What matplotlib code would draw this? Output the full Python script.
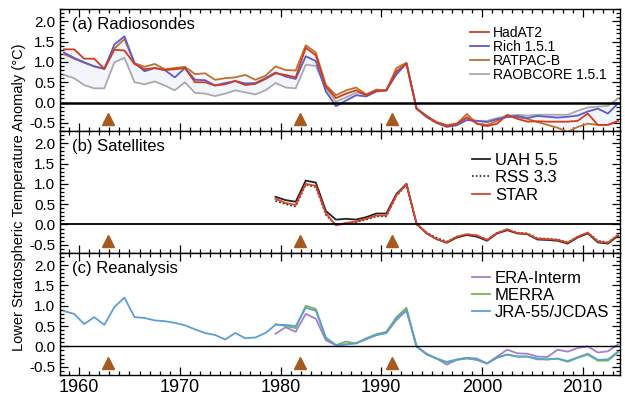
import numpy as np
import matplotlib.pyplot as plt
from matplotlib.ticker import MultipleLocator

plt.rcParams['font.family'] = ['Liberation Sans Narrow', 'Liberation Sans', 'DejaVu Sans']
plt.rcParams['axes.unicode_minus'] = False

# annual means, plotted at mid-year
years = np.arange(1958, 2014)
sat_years = np.arange(1979, 2014)

# (a) radiosondes
hadat2 = [1.31, 1.31, 1.08, 1.08, 0.83, 1.30, 1.28, 0.95, 0.82, 0.85, 0.80, 0.82,
          0.85, 0.50, 0.50, 0.42, 0.45, 0.53, 0.43, 0.46, 0.58, 0.72, 0.68, 0.62,
          1.35, 1.16, 0.39, 0.11, 0.22, 0.30, 0.18, 0.29, 0.30, 0.77, 0.96,
          -0.15, -0.34, -0.50, -0.58, -0.53, -0.36, -0.52, -0.58, -0.52, -0.30,
          -0.40, -0.47, -0.46, -0.47, -0.47, -0.47, -0.45, -0.27, -0.55, -0.55, -0.46]
rich = [1.23, 1.10, 0.99, 0.89, 0.83, 1.43, 1.63, 0.97, 0.77, 0.85, 0.80, 0.62,
        0.85, 0.56, 0.55, 0.42, 0.48, 0.53, 0.47, 0.48, 0.60, 0.74, 0.64, 0.58,
        1.14, 1.02, 0.27, -0.09, 0.05, 0.18, 0.15, 0.27, 0.30, 0.69, 0.96,
        -0.15, -0.36, -0.50, -0.60, -0.56, -0.43, -0.45, -0.48, -0.41, -0.36,
        -0.33, -0.38, -0.33, -0.35, -0.37, -0.35, -0.32, -0.22, -0.15, -0.27, -0.02]
ratpac = [1.19, 1.08, 0.98, 0.89, 0.83, 1.33, 1.56, 0.97, 0.88, 0.95, 0.82, 0.85,
          0.88, 0.70, 0.72, 0.56, 0.60, 0.62, 0.68, 0.56, 0.66, 0.89, 0.80, 0.79,
          1.41, 1.23, 0.43, 0.18, 0.30, 0.37, 0.20, 0.32, 0.30, 0.85, 0.98,
          -0.15, -0.33, -0.48, -0.56, -0.52, -0.28, -0.52, -0.55, -0.45, -0.32,
          -0.36, -0.40, -0.48, -0.55, -0.62, -0.72, -0.60, -0.52, -0.55, -0.55, -0.45]
raobcore = [0.68, 0.60, 0.43, 0.35, 0.35, 0.99, 1.10, 0.50, 0.45, 0.52, 0.42, 0.30,
            0.50, 0.24, 0.22, 0.16, 0.22, 0.30, 0.25, 0.20, 0.30, 0.48, 0.37, 0.35,
            0.93, 0.90, 0.35, 0.02, 0.13, 0.24, 0.20, 0.29, 0.30, 0.73, 0.96,
            -0.13, -0.33, -0.48, -0.55, -0.52, -0.40, -0.45, -0.45, -0.38, -0.33,
            -0.30, -0.32, -0.30, -0.30, -0.30, -0.30, -0.20, -0.12, -0.10, -0.08, 0.10]

# (b) satellites, 1979 onwards
uah = [0.68, 0.60, 0.56, 1.08, 1.03, 0.33, 0.12, 0.14, 0.12, 0.18, 0.27, 0.27,
       0.75, 1.00, 0.02, -0.22, -0.36, -0.45, -0.32, -0.26, -0.30, -0.40, -0.22,
       -0.14, -0.22, -0.24, -0.37, -0.38, -0.40, -0.47, -0.32, -0.22, -0.44, -0.47, -0.28]
rss = [0.58, 0.50, 0.44, 0.98, 0.92, 0.24, -0.02, 0.03, 0.06, 0.12, 0.20, 0.20,
       0.70, 0.98, 0.00, -0.20, -0.33, -0.42, -0.30, -0.24, -0.27, -0.37, -0.20,
       -0.12, -0.20, -0.22, -0.34, -0.35, -0.37, -0.44, -0.30, -0.20, -0.40, -0.44, -0.26]
star = [0.63, 0.53, 0.48, 1.00, 0.95, 0.27, -0.02, 0.04, 0.07, 0.14, 0.22, 0.22,
        0.72, 0.99, 0.02, -0.21, -0.36, -0.44, -0.30, -0.24, -0.27, -0.38, -0.21,
        -0.12, -0.21, -0.23, -0.35, -0.36, -0.38, -0.45, -0.30, -0.20, -0.42, -0.45, -0.26]

# (c) reanalyses
era_interim = [0.31, 0.47, 0.36, 0.80, 0.68, 0.15, 0.03, 0.05, 0.08, 0.18, 0.28, 0.33,
               0.65, 0.88, 0.00, -0.18, -0.30, -0.45, -0.33, -0.28, -0.30, -0.42, -0.25,
               -0.08, -0.17, -0.18, -0.25, -0.26, -0.08, -0.13, -0.04, 0.00, -0.15, -0.12, 0.05]
merra = [0.55, 0.50, 0.45, 1.00, 0.92, 0.22, 0.03, 0.12, 0.07, 0.20, 0.30, 0.36,
         0.72, 0.95, 0.00, -0.20, -0.30, -0.40, -0.33, -0.30, -0.33, -0.42, -0.28,
         -0.20, -0.25, -0.25, -0.32, -0.32, -0.30, -0.38, -0.28, -0.20, -0.35, -0.35, -0.15]
jra55 = [0.87, 0.80, 0.55, 0.72, 0.53, 0.97, 1.20, 0.72, 0.70, 0.64, 0.62, 0.58,
         0.52, 0.42, 0.33, 0.28, 0.17, 0.33, 0.20, 0.22, 0.33, 0.53, 0.53, 0.50,
         0.95, 0.88, 0.20, 0.03, 0.05, 0.08, 0.18, 0.28, 0.33, 0.68, 0.90,
         0.00, -0.19, -0.30, -0.38, -0.32, -0.28, -0.33, -0.42, -0.27, -0.20,
         -0.25, -0.25, -0.30, -0.32, -0.30, -0.36, -0.27, -0.18, -0.33, -0.32, -0.13]

# volcanic eruptions (Agung, El Chichon, Pinatubo)
eruptions = [1962.85, 1981.95, 1991.05]
eruption_level = -0.40

x = years + 0.5
xs = sat_years + 0.5

fig = plt.figure(figsize=(6.25, 3.95), dpi=100)
axs = fig.subplots(3, 1, sharex=True, gridspec_kw=dict(hspace=0))
fig.subplots_adjust(left=0.096, right=0.992, top=0.977, bottom=0.051)

# panel (a)
ax = axs[0]
stack = np.array([hadat2, rich, ratpac, raobcore])
ax.fill_between(x, stack.min(axis=0), stack.max(axis=0), color='#f2f5fb', lw=0, zorder=1)
ax.plot(x, raobcore, color='#aaaaaa', lw=1.3, label='RAOBCORE 1.5.1', zorder=2)
ax.plot(x, ratpac, color='#c0702c', lw=1.3, label='RATPAC-B', zorder=3)
ax.plot(x, rich, color='#5c5bd0', lw=1.3, label='Rich 1.5.1', zorder=4)
ax.plot(x, hadat2, color='#d23c1c', lw=1.3, label='HadAT2', zorder=5)
h, l = ax.get_legend_handles_labels()
ax.legend(h[::-1], l[::-1], loc='center left', bbox_to_anchor=(0.732, 0.635),
          frameon=False, fontsize=10, handlelength=1.35, handletextpad=0.3,
          labelspacing=0.0, borderpad=0, borderaxespad=0)
ax.axhline(0, color='black', lw=1.8, zorder=6)

# panel (b)
ax = axs[1]
ax.plot(xs, uah, color='#222222', lw=1.3, label='UAH 5.5', zorder=3)
ax.plot(xs, rss, color='#222222', lw=1.2, ls=(0, (1, 1.3)), label='RSS 3.3', zorder=4)
ax.plot(xs, star, color='#d8452a', lw=1.3, label='STAR', zorder=5)
ax.legend(loc='center left', bbox_to_anchor=(0.735, 0.616), frameon=False,
          fontsize=12, handlelength=1.1, handletextpad=0.3, labelspacing=0.15,
          borderpad=0, borderaxespad=0)
ax.axhline(0, color='black', lw=1.3, zorder=6)

# panel (c)
ax = axs[2]
ax.plot(x, jra55, color='#5b9fd6', lw=1.3, label='JRA-55/JCDAS', zorder=3)
ax.plot(xs, merra, color='#79b84a', lw=1.3, label='MERRA', zorder=2)
ax.plot(xs, era_interim, color='#a47fd0', lw=1.3, label='ERA-Interm', zorder=1)
h, l = ax.get_legend_handles_labels()
ax.legend(h[::-1], l[::-1], loc='center left', bbox_to_anchor=(0.735, 0.652),
          frameon=False, fontsize=12, handlelength=1.1, handletextpad=0.3,
          labelspacing=0.12, borderpad=0, borderaxespad=0)
ax.axhline(0, color='black', lw=1.0, zorder=6)

titles = ['(a) Radiosondes', '(b) Satellites', '(c) Reanalysis']
for ax, t in zip(axs, titles):
    ax.plot(eruptions, [eruption_level] * len(eruptions), ls='none', marker='^',
            ms=8, color='#a65a1f', zorder=7)
    ax.text(0.021, 0.875, t, transform=ax.transAxes, fontsize=12, va='center', ha='left')
    ax.set_ylim(-0.7, 2.3)
    ax.set_yticks([-0.5, 0.0, 0.5, 1.0, 1.5, 2.0])
    ax.set_yticklabels(['-0.5', '0.0', '0.5', '1.0', '1.5', '2.0'], fontsize=11)
    ax.yaxis.set_minor_locator(MultipleLocator(0.1))
    ax.xaxis.set_major_locator(MultipleLocator(10))
    ax.xaxis.set_minor_locator(MultipleLocator(1))
    ax.tick_params(which='both', direction='in', top=True, right=True, width=0.9)
    ax.tick_params(which='major', length=6)
    ax.tick_params(which='minor', length=3)
    for s in ax.spines.values():
        s.set_linewidth(1.0)

axs[2].set_xlim(1958.1, 2013.7)
axs[2].tick_params(axis='x', labelsize=13, pad=3)

fig.text(0.03, 0.5, 'Lower Stratospheric Temperature Anomaly (°C)', rotation=90,
         va='center', ha='center', fontsize=10.5)

fig.savefig('out.png', dpi=100)
